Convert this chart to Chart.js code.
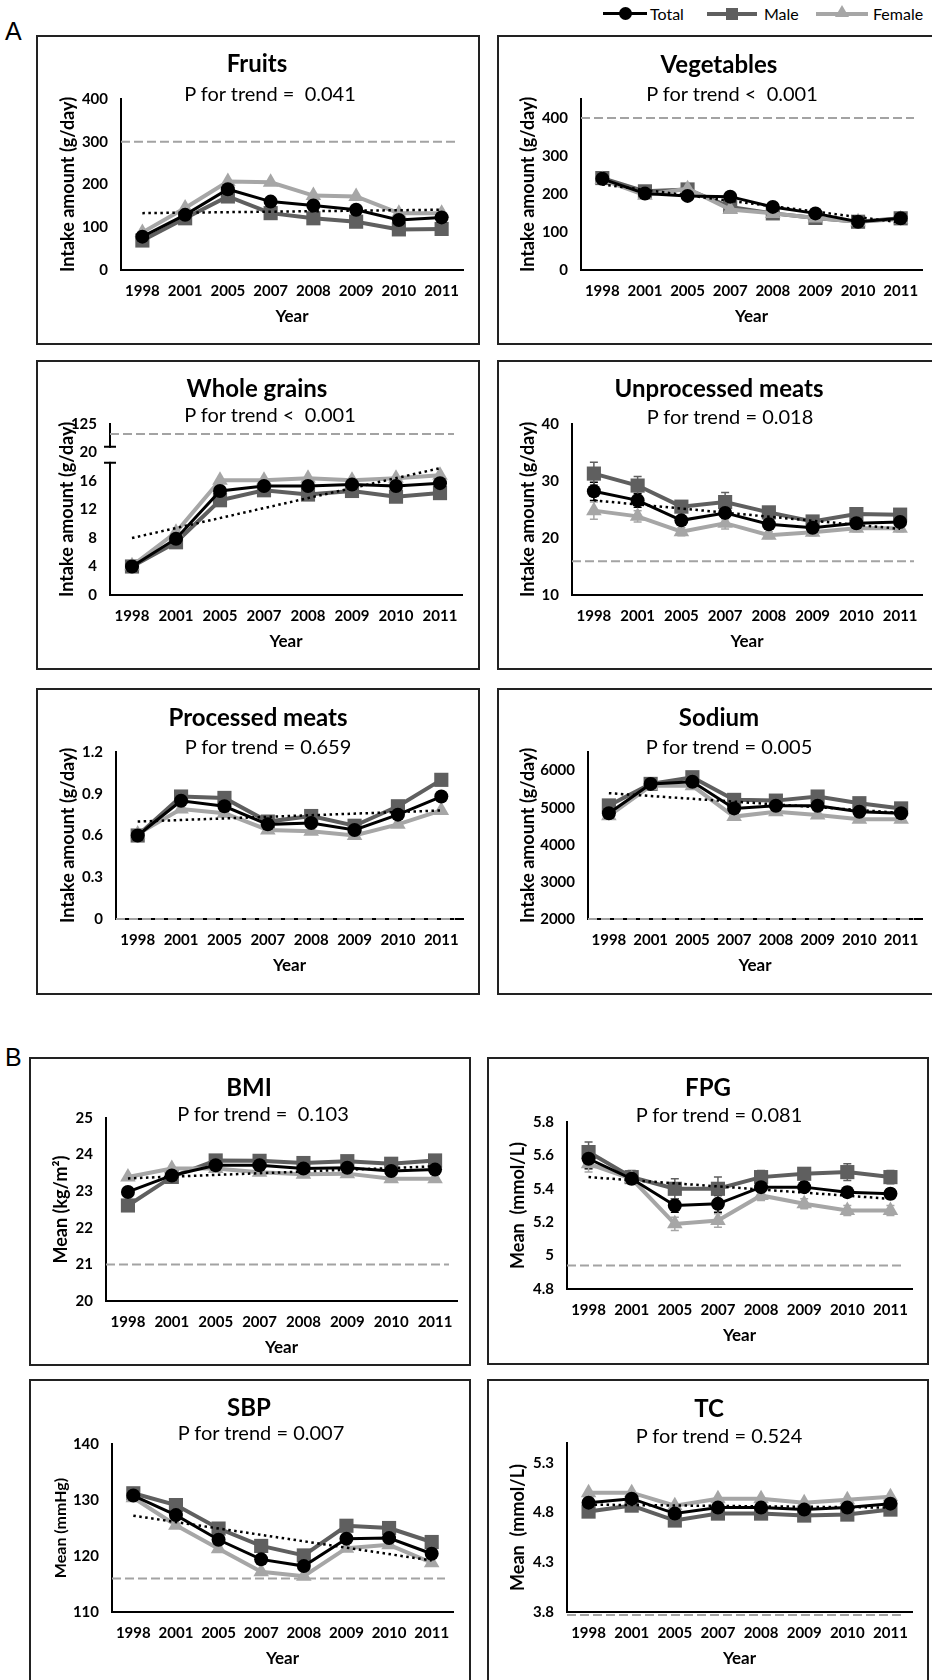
<!DOCTYPE html>
<html>
<head>
<meta charset="utf-8">
<script src="https://cdn.jsdelivr.net/npm/chart.js@4.4.0/dist/chart.umd.min.js"></script>
<style>
  html, body { margin: 0; padding: 0; background: #fff; }
  body { width: 932px; height: 1680px; position: relative; overflow: hidden; font-family: Lato, "Open Sans", sans-serif; color: #000; }
  .frame { position: absolute; border: 2px solid #222; box-sizing: border-box; }
  canvas { position: absolute; }
  .ttl { position: absolute; transform: translate(-50%, -50%); font-weight: bold; font-size: 24px; white-space: pre; line-height: 1; }
  .sub { position: absolute; transform: translate(-50%, -50%); font-size: 20px; white-space: pre; line-height: 1; }
  .tag { position: absolute; font-family: "Liberation Sans", Arial, sans-serif; font-size: 25px; line-height: 25px; }
  .lg-line { position: absolute; height: 3px; }
  .lg-txt { position: absolute; font-size: 16px; line-height: 1; transform: translateY(-50%); }
</style>
</head>
<body>
<div class="tag" style="left:5px; top:19px;">A</div>
<div class="tag" style="left:5px; top:1045px;">B</div>

<!-- legend -->
<div class="lg-line" style="left:603px; top:12px; width:44px; background:#000;"></div>
<div style="position:absolute; left:619px; top:7px; width:13px; height:13px; border-radius:50%; background:#000;"></div>
<div class="lg-txt" style="left:650px; top:14px;">Total</div>
<div class="lg-line" style="left:707px; top:12px; width:50px; height:4px; background:#5f5f5f;"></div>
<div style="position:absolute; left:726px; top:8px; width:12px; height:12px; background:#5f5f5f;"></div>
<div class="lg-txt" style="left:764px; top:14px;">Male</div>
<div class="lg-line" style="left:816px; top:12px; width:52px; height:4px; background:#a6a6a6;"></div>
<div style="position:absolute; left:835px; top:5px; width:0; height:0; border-left:7px solid transparent; border-right:7px solid transparent; border-bottom:12px solid #a6a6a6;"></div>
<div class="lg-txt" style="left:873px; top:14px;">Female</div>

<script>
const years = ['1998', '2001', '2005', '2007', '2008', '2009', '2010', '2011'];

// Fruits (g/day)
const fruitsTotal = [78, 129, 189, 160, 151, 141, 117, 123];
const fruitsMale = [69, 121, 172, 133, 121, 113, 95, 96];
const fruitsFemale = [88, 145, 207, 205, 174, 172, 133, 133];
const fruitsTrend = [133, 141];
const fruitsRef = 300;
const fruitsTicks = [0, 100, 200, 300, 400];

// Vegetables (g/day)
const vegTotal = [240, 201, 195, 193, 166, 149, 127, 136];
const vegMale = [242, 207, 212, 166, 149, 137, 127, 136];
const vegFemale = [238, 197, 214, 159, 149, 137, 127, 134];
const vegTrend = [225, 125];
const vegRef = 400;
const vegTicks = [0, 100, 200, 300, 400];

// Whole grains (g/day), broken axis: top tick stands for 125
const grainsTotal = [4.0, 7.9, 14.6, 15.3, 15.3, 15.5, 15.3, 15.7];
const grainsMale = [4.0, 7.4, 13.3, 14.7, 14.1, 14.6, 13.8, 14.3];
const grainsFemale = [4.1, 8.8, 16.1, 16.1, 16.4, 16.1, 16.4, 16.8];
const grainsTrend = [8.0, 17.8];
const grainsRef = 22.6;
const grainsTicks = [0, 4, 8, 12, 16, 20, 24];
const grainsTickLabels = ['0', '4', '8', '12', '16', '20', '125'];

// Unprocessed meats (g/day)
const unprocTotal = [28.2, 26.6, 23.1, 24.4, 22.4, 21.8, 22.6, 22.8];
const unprocMale = [31.3, 29.2, 25.5, 26.3, 24.5, 22.9, 24.2, 24.1];
const unprocFemale = [24.8, 23.8, 21.1, 22.6, 20.5, 21.0, 21.7, 21.7];
const unprocTotalErr = [1.6, 1.2, 0.8, 1.0, 0.7, 0.6, 0.6, 0.6];
const unprocMaleErr = [2.0, 1.6, 1.0, 1.7, 0.9, 0.7, 0.8, 0.8];
const unprocFemaleErr = [1.5, 1.0, 0.7, 1.0, 0.6, 0.6, 0.6, 0.6];
const unprocTrend = [26.6, 21.6];
const unprocRef = 15.9;
const unprocTicks = [10, 20, 30, 40];

// Processed meats (g/day)
const procTotal = [0.60, 0.85, 0.81, 0.68, 0.69, 0.64, 0.75, 0.88];
const procMale = [0.60, 0.88, 0.87, 0.70, 0.74, 0.67, 0.81, 1.00];
const procFemale = [0.61, 0.79, 0.76, 0.64, 0.63, 0.60, 0.68, 0.78];
const procTrend = [0.70, 0.78];
const procRef = 0;
const procTicks = [0, 0.3, 0.6, 0.9, 1.2];

// Sodium
const sodiumTotal = [4850, 5640, 5700, 4980, 5050, 5050, 4890, 4850];
const sodiumMale = [5060, 5640, 5820, 5210, 5190, 5300, 5120, 4980];
const sodiumFemale = [4780, 5590, 5590, 4760, 4890, 4800, 4690, 4690];
const sodiumTrend = [5390, 4860];
const sodiumRef = 2000;
const sodiumTicks = [2000, 3000, 4000, 5000, 6000];

// BMI (kg/m2)
const bmiTotal = [22.98, 23.43, 23.71, 23.71, 23.62, 23.64, 23.55, 23.59];
const bmiMale = [22.61, 23.39, 23.84, 23.83, 23.77, 23.82, 23.75, 23.84];
const bmiFemale = [23.39, 23.62, 23.62, 23.52, 23.46, 23.48, 23.34, 23.34];
const bmiTrend = [23.35, 23.68];
const bmiRef = 21;
const bmiTicks = [20, 21, 22, 23, 24, 25];

// FPG (mmol/L)
const fpgTotal = [5.58, 5.46, 5.30, 5.31, 5.41, 5.41, 5.38, 5.37];
const fpgMale = [5.62, 5.47, 5.40, 5.40, 5.47, 5.49, 5.50, 5.47];
const fpgFemale = [5.55, 5.46, 5.19, 5.21, 5.36, 5.31, 5.27, 5.27];
const fpgTotalErr = [0.06, 0.03, 0.04, 0.05, 0.03, 0.03, 0.03, 0.03];
const fpgMaleErr = [0.06, 0.04, 0.06, 0.07, 0.04, 0.03, 0.05, 0.04];
const fpgFemaleErr = [0.05, 0.03, 0.04, 0.04, 0.03, 0.03, 0.03, 0.03];
const fpgTrend = [5.47, 5.34];
const fpgRef = 4.94;
const fpgTicks = [4.8, 5, 5.2, 5.4, 5.6, 5.8];

// SBP (mmHg)
const sbpTotal = [130.8, 127.3, 122.9, 119.4, 118.2, 123.1, 123.2, 120.4];
const sbpMale = [131.2, 129.1, 124.9, 121.8, 120.1, 125.4, 125.0, 122.5];
const sbpFemale = [130.4, 125.5, 121.3, 117.2, 116.4, 121.4, 122.0, 118.8];
const sbpTrend = [127.2, 119.2];
const sbpRef = 116;
const sbpTicks = [110, 120, 130, 140];

// TC (mmol/L)
const tcTotal = [4.90, 4.94, 4.79, 4.85, 4.85, 4.83, 4.85, 4.89];
const tcMale = [4.81, 4.87, 4.72, 4.79, 4.79, 4.77, 4.78, 4.83];
const tcFemale = [5.00, 5.00, 4.87, 4.94, 4.94, 4.90, 4.93, 4.96];
const tcTrend = [4.88, 4.85];
const tcRef = 3.77;
const tcTicks = [3.8, 4.3, 4.8, 5.3];

const INTAKE = 'Intake amount (g/day)';

// layout of each panel: frame box [x, y, w, h], plot area [left, top, right, bottom]
const panels = [
  { box: [36, 35, 444, 310], area: [121, 99, 463, 270], title: 'Fruits', titleAt: [257, 63], sub: 'P for trend =  0.041', subAt: [270, 93],
    yTitle: INTAKE, yGap: 53, yMin: 0, yMax: 400, ticks: fruitsTicks,
    total: fruitsTotal, male: fruitsMale, female: fruitsFemale, trend: fruitsTrend, ref: fruitsRef },
  { box: [497, 35, 445, 310], area: [581, 99, 923, 270], title: 'Vegetables', titleAt: [719, 64], sub: 'P for trend <  0.001', subAt: [732, 93],
    yTitle: INTAKE, yGap: 53, yMin: 0, yMax: 450, ticks: vegTicks,
    total: vegTotal, male: vegMale, female: vegFemale, trend: vegTrend, ref: vegRef },
  { box: [36, 360, 444, 310], area: [110, 424, 462, 595], title: 'Whole grains', titleAt: [257, 388], sub: 'P for trend <  0.001', subAt: [270, 414],
    yTitle: INTAKE, yGap: 43, yMin: 0, yMax: 24, ticks: grainsTicks, tickLabels: grainsTickLabels, brk: [18.55, 20.8],
    total: grainsTotal, male: grainsMale, female: grainsFemale, trend: grainsTrend, ref: grainsRef },
  { box: [497, 360, 445, 310], area: [572, 424, 923, 595], title: 'Unprocessed meats', titleAt: [719, 388], sub: 'P for trend = 0.018', subAt: [730, 416],
    yTitle: INTAKE, yGap: 44, yMin: 10, yMax: 40, ticks: unprocTicks,
    total: unprocTotal, male: unprocMale, female: unprocFemale, trend: unprocTrend, ref: unprocRef,
    totalErr: unprocTotalErr, maleErr: unprocMaleErr, femaleErr: unprocFemaleErr },
  { box: [36, 688, 444, 307], area: [116, 752, 463, 919], title: 'Processed meats', titleAt: [258, 717], sub: 'P for trend = 0.659', subAt: [268, 746],
    yTitle: INTAKE, yGap: 48, yMin: 0, yMax: 1.2, ticks: procTicks,
    total: procTotal, male: procMale, female: procFemale, trend: procTrend, ref: procRef },
  { box: [497, 688, 445, 307], area: [588, 752, 924, 919], title: 'Sodium', titleAt: [719, 717], sub: 'P for trend = 0.005', subAt: [729, 746],
    yTitle: INTAKE, yGap: 60, yMin: 2000, yMax: 6500, ticks: sodiumTicks,
    total: sodiumTotal, male: sodiumMale, female: sodiumFemale, trend: sodiumTrend, ref: sodiumRef },
  { box: [29, 1057, 442, 309], area: [106, 1118, 457, 1301], title: 'BMI', titleAt: [249, 1087], sub: 'P for trend =  0.103', subAt: [263, 1113],
    yTitle: 'Mean (kg/m²)', yGap: 45, yMin: 20, yMax: 25, ticks: bmiTicks,
    total: bmiTotal, male: bmiMale, female: bmiFemale, trend: bmiTrend, ref: bmiRef },
  { box: [487, 1057, 442, 308], area: [567, 1122, 912, 1289], title: 'FPG', titleAt: [708, 1087], sub: 'P for trend = 0.081', subAt: [719, 1114],
    yTitle: 'Mean  (mmol/L)', yGap: 49, yMin: 4.8, yMax: 5.8, ticks: fpgTicks,
    total: fpgTotal, male: fpgMale, female: fpgFemale, trend: fpgTrend, ref: fpgRef,
    totalErr: fpgTotalErr, maleErr: fpgMaleErr, femaleErr: fpgFemaleErr },
  { box: [29, 1379, 442, 320], area: [112, 1444, 453, 1612], title: 'SBP', titleAt: [249, 1407], sub: 'P for trend = 0.007', subAt: [261, 1432],
    yTitle: 'Mean (mmHg)', yGap: 51, yMin: 110, yMax: 140, ticks: sbpTicks, yTitleSize: 16,
    total: sbpTotal, male: sbpMale, female: sbpFemale, trend: sbpTrend, ref: sbpRef },
  { box: [487, 1379, 442, 320], area: [567, 1443, 912, 1612], title: 'TC', titleAt: [709, 1408], sub: 'P for trend = 0.524', subAt: [719, 1435],
    yTitle: 'Mean  (mmol/L)', yGap: 49, yMin: 3.8, yMax: 5.5, ticks: tcTicks,
    total: tcTotal, male: tcMale, female: tcFemale, trend: tcTrend, ref: tcRef }
];

Chart.defaults.font.family = 'Lato, "Open Sans", sans-serif';
Chart.defaults.color = '#000';

// grey dashed guideline
const refLinePlugin = {
  id: 'refLine',
  beforeDatasetsDraw(chart, args, opts) {
    if (opts.value === undefined || opts.value === null) return;
    const y = chart.scales.y.getPixelForValue(opts.value);
    const a = chart.chartArea;
    const ctx = chart.ctx;
    ctx.save();
    ctx.strokeStyle = '#a3a3a3';
    ctx.lineWidth = 2;
    ctx.setLineDash([9, 4]);
    ctx.beginPath();
    ctx.moveTo(a.left, y);
    ctx.lineTo(a.right - 8, y);
    ctx.stroke();
    ctx.restore();
  }
};

// vertical error bars read from dataset.errors
const errorBarPlugin = {
  id: 'errorBars',
  beforeDatasetsDraw(chart) {
    const ctx = chart.ctx;
    const ys = chart.scales.y;
    chart.data.datasets.forEach((ds, i) => {
      if (!ds.errors) return;
      const meta = chart.getDatasetMeta(i);
      ctx.save();
      ctx.strokeStyle = ds.borderColor;
      ctx.lineWidth = 1.5;
      meta.data.forEach((pt, j) => {
        const e = ds.errors[j];
        const v = ds.data[j];
        const y1 = ys.getPixelForValue(v + e);
        const y2 = ys.getPixelForValue(v - e);
        ctx.beginPath();
        ctx.moveTo(pt.x, y1); ctx.lineTo(pt.x, y2);
        ctx.moveTo(pt.x - 4, y1); ctx.lineTo(pt.x + 4, y1);
        ctx.moveTo(pt.x - 4, y2); ctx.lineTo(pt.x + 4, y2);
        ctx.stroke();
      });
      ctx.restore();
    });
  }
};

// break marks on the y axis (whole grains)
const axisBreakPlugin = {
  id: 'axisBreak',
  afterDraw(chart, args, opts) {
    if (!opts.range) return;
    const ys = chart.scales.y;
    const x = chart.chartArea.left;
    const yA = ys.getPixelForValue(opts.range[1]);
    const yB = ys.getPixelForValue(opts.range[0]);
    const ctx = chart.ctx;
    ctx.save();
    ctx.fillStyle = '#fff';
    ctx.fillRect(x - 2, yA + 1, 4, yB - yA - 2);
    ctx.strokeStyle = '#000';
    ctx.lineWidth = 2;
    ctx.beginPath();
    ctx.moveTo(x - 6, yA); ctx.lineTo(x + 6, yA);
    ctx.moveTo(x - 6, yB); ctx.lineTo(x + 6, yB);
    ctx.stroke();
    ctx.restore();
  }
};

function addText(cls, text, at) {
  const d = document.createElement('div');
  d.className = cls;
  d.textContent = text;
  d.style.left = at[0] + 'px';
  d.style.top = at[1] + 'px';
  document.body.appendChild(d);
}

function makePanel(p) {
  const [bx, by, bw, bh] = p.box;
  const frame = document.createElement('div');
  frame.className = 'frame';
  frame.style.left = bx + 'px';
  frame.style.top = by + 'px';
  frame.style.width = bw + 'px';
  frame.style.height = bh + 'px';
  document.body.appendChild(frame);

  const cw = Math.min(bw, 932 - bx);
  const ch = Math.min(bh, 1680 - by);
  const cv = document.createElement('canvas');
  cv.width = cw;
  cv.height = ch;
  cv.style.left = bx + 'px';
  cv.style.top = by + 'px';
  document.body.appendChild(cv);

  addText('ttl', p.title, p.titleAt);
  addText('sub', p.sub, p.subAt);

  const yTitleSize = p.yTitleSize || 18;
  const W = p.yGap + yTitleSize * 0.6;
  const H = 57;
  const pad = {
    left: p.area[0] - bx - W,
    top: p.area[1] - by,
    right: bx + cw - p.area[2],
    bottom: by + ch - p.area[3] - H
  };

  const trendData = years.map((y, i) => i === 0 ? p.trend[0] : (i === years.length - 1 ? p.trend[1] : null));

  new Chart(cv, {
    type: 'line',
    data: {
      labels: years,
      datasets: [
        { label: 'Trend', data: trendData, spanGaps: true, borderColor: '#000', borderWidth: 2.5,
          borderDash: [2.5, 3.5], pointRadius: 0, order: 0 },
        { label: 'Total', data: p.total, errors: p.totalErr, borderColor: '#000', backgroundColor: '#000',
          borderWidth: 3, pointStyle: 'circle', pointRadius: 7, pointBorderWidth: 0, order: 1 },
        { label: 'Female', data: p.female, errors: p.femaleErr, borderColor: '#a6a6a6', backgroundColor: '#a6a6a6',
          borderWidth: 4, pointStyle: 'triangle', pointRadius: 9, pointBorderWidth: 0, order: 2 },
        { label: 'Male', data: p.male, errors: p.maleErr, borderColor: '#5f5f5f', backgroundColor: '#5f5f5f',
          borderWidth: 4, pointStyle: 'rect', pointRadius: 10, pointBorderWidth: 0, order: 3 }
      ]
    },
    options: {
      responsive: false,
      animation: false,
      devicePixelRatio: 1,
      clip: false,
      layout: { padding: pad },
      plugins: {
        legend: { display: false },
        tooltip: { enabled: false },
        refLine: { value: p.ref },
        axisBreak: { range: p.brk }
      },
      scales: {
        x: {
          offset: true,
          grid: { display: false, drawTicks: false },
          border: { display: true, color: '#000', width: 2 },
          ticks: { font: { weight: 'bold', size: 15 }, color: '#000', padding: 12, maxRotation: 0, autoSkip: false },
          title: { display: true, text: 'Year', font: { weight: 'bold', size: 17 }, color: '#000', padding: { top: 0, bottom: 0 } },
          afterFit: s => { s.height = H; }
        },
        y: {
          min: p.yMin,
          max: p.yMax,
          grid: { display: false, drawTicks: false },
          border: { display: true, color: '#000', width: 2 },
          afterBuildTicks: s => { s.ticks = p.ticks.map(v => ({ value: v })); },
          ticks: {
            font: { weight: 'bold', size: 15 }, color: '#000', padding: 13,
            callback: v => p.tickLabels ? p.tickLabels[p.ticks.indexOf(v)] : String(v)
          },
          title: { display: true, text: p.yTitle, font: { weight: 'bold', size: yTitleSize }, color: '#000', padding: { top: 0, bottom: 0 } },
          afterFit: s => { s.width = W; }
        }
      }
    },
    plugins: [refLinePlugin, errorBarPlugin, axisBreakPlugin]
  });
}

panels.forEach(makePanel);
</script>
</body>
</html>
